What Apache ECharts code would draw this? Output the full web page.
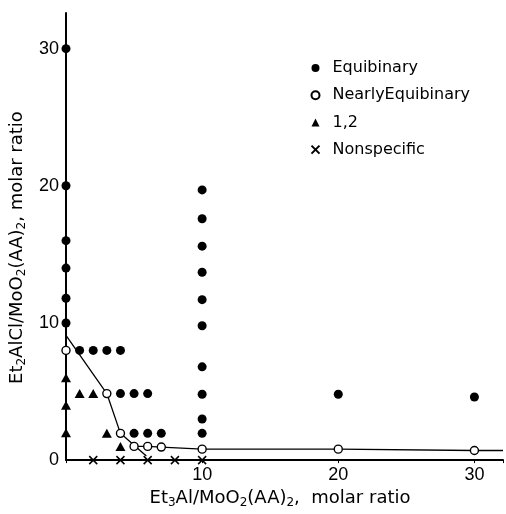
<!DOCTYPE html>
<html><head><meta charset="utf-8">
<script src="https://cdn.jsdelivr.net/npm/echarts@6/dist/echarts.min.js"></script>
<style>html,body{margin:0;padding:0;background:#fff}#c{width:506px;height:514px}</style>
</head><body><div id="c"></div>
<script>
// ---- data ----
const equibinary = [[0,30],[0,20],[0,16],[0,14],[0,11.8],[0,10],
  [1,8],[2,8],[3,8],[4,8],[4,4.85],[5,4.85],[6,4.85],[5,1.95],[6,1.95],[7,1.95],
  [10,19.7],[10,17.6],[10,15.6],[10,13.7],[10,11.7],[10,9.8],[10,6.8],[10,4.8],[10,3.0],[10,1.95],
  [20,4.8],[30,4.6]];
const nearlyEquibinary = [[0,8],[3,4.85],[4,1.95],[5,1],[6,1],[7,0.95],[10,0.8],[20,0.8],[30,0.7]];
const oneTwo = [[0,2],[0,4],[0,6],[1,4.85],[2,4.85],[3,1.95],[4,1]];
const nonspecific = [[2,0],[4,0],[6,0],[8,0],[10,0]];
const boundaryDiagonal = [[0,9.1],[3,4.85],[4,1.95],[5.9,0.3]];
const boundaryFlat = [[5,1],[6,1],[7,0.95],[10,0.8],[20,0.8],[30,0.7],[32.1,0.7]];
const xTicks = [10,20,30];
const yTicks = [0,10,20,30];
const seriesNames = ['Equibinary','NearlyEquibinary','1,2','Nonspecific'];

const FONT = 'Liberation Sans';
const TFONT = 'DejaVu Sans';
const crossPath = 'path://M0,0L10,10M10,0L0,10';
const subRich = {
  n:{fontFamily:TFONT, fontSize:18, color:'#000'},
  s:{fontFamily:TFONT, fontSize:12, color:'#000', padding:[10,0,0,0]}
};
const chart = echarts.init(document.getElementById('c'), null, {renderer:'canvas'});
chart.setOption({
  animation:false,
  backgroundColor:'#fff',
  grid:{left:66, right:0, top:13, bottom:51.5, containLabel:false},
  legend:{
    orient:'vertical', left:304, top:55, itemWidth:8, itemHeight:8, itemGap:11.2,
    data:seriesNames,
    textStyle:{fontFamily:TFONT, fontSize:16, color:'#000', padding:[0,0,0,8]},
    selectedMode:false
  },
  xAxis:{
    type:'value', min:0, max:32.1, interval:10,
    axisLine:{lineStyle:{color:'#000', width:2}},
    axisTick:{show:true, length:3, lineStyle:{color:'#000'}},
    splitLine:{show:false},
    axisLabel:{fontFamily:FONT, fontSize:18, color:'#000', margin:6,
      formatter:v=>xTicks.includes(v)?String(v):''},
    name:'{n|Et}{s|3}{n|Al/MoO}{s|2}{n|(AA)}{s|2}{n|,  molar ratio}',
    nameLocation:'middle', nameGap:24,
    nameTextStyle:{padding:[0,9,0,0], rich:subRich}
  },
  yAxis:{
    type:'value', min:0, max:32.6, interval:10,
    axisLine:{lineStyle:{color:'#000', width:2}},
    axisTick:{show:false},
    splitLine:{show:false},
    axisLabel:{fontFamily:FONT, fontSize:18, color:'#000', margin:7,
      formatter:v=>yTicks.includes(v)?String(v):''},
    name:'{n|Et}{s|2}{n|AlCl/MoO}{s|2}{n|(AA)}{s|2}{n|, molar ratio}',
    nameLocation:'middle', nameGap:15,
    nameTextStyle:{padding:[0,22,0,0], rich:subRich}
  },
  series:[
    {type:'line', data:boundaryDiagonal, symbol:'none', lineStyle:{color:'#000', width:1.3}, z:1, silent:true},
    {type:'line', data:boundaryFlat, symbol:'none', lineStyle:{color:'#000', width:1.3}, z:1, silent:true},
    {name:seriesNames[0], type:'scatter', data:equibinary, symbol:'circle', symbolSize:9,
      itemStyle:{color:'#000', opacity:1}, z:3},
    {name:seriesNames[1], type:'scatter', data:nearlyEquibinary, symbol:'circle', symbolSize:8,
      itemStyle:{color:'#fff', borderColor:'#000', borderWidth:1.4, opacity:1}, z:3},
    {name:seriesNames[2], type:'scatter', data:oneTwo, symbol:'triangle', symbolSize:[10,9],
      itemStyle:{color:'#000', opacity:1}, z:3},
    {name:seriesNames[3], type:'scatter', data:nonspecific, symbol:crossPath, symbolSize:8,
      itemStyle:{color:'none', borderColor:'#000', borderWidth:1.5, opacity:1}, z:3}
  ]
});
</script></body></html>
